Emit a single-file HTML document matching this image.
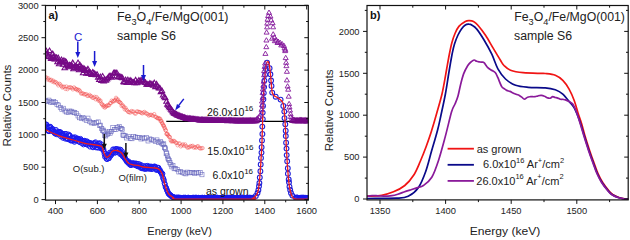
<!DOCTYPE html>
<html><head><meta charset="utf-8">
<style>
html,body{margin:0;padding:0;background:#fff;}
body{width:630px;height:238px;overflow:hidden;}
svg{display:block;font-family:"Liberation Sans",sans-serif;}
text{font-family:"Liberation Sans",sans-serif;}
</style></head><body>
<svg width="630" height="238" viewBox="0 0 630 238">
<rect width="630" height="238" fill="#fff"/>
<clipPath id="ca"><rect x="45.5" y="5.5" width="262.8" height="194.6"/></clipPath>
<g clip-path="url(#ca)">
<line x1="166.3" y1="121.4" x2="308.3" y2="121.4" stroke="#000" stroke-width="1.3"/>
<g fill="none" stroke="#f04040" stroke-width="0.42"><circle cx="45.5" cy="77.5" r="1.7"/><circle cx="46.5" cy="77.5" r="1.7"/><circle cx="47.4" cy="79.5" r="1.7"/><circle cx="48.4" cy="78.3" r="1.7"/><circle cx="49.4" cy="80.2" r="1.7"/><circle cx="50.4" cy="80.2" r="1.7"/><circle cx="51.3" cy="79.8" r="1.7"/><circle cx="52.3" cy="81.6" r="1.7"/><circle cx="53.3" cy="80.7" r="1.7"/><circle cx="54.2" cy="82.4" r="1.7"/><circle cx="55.2" cy="81.9" r="1.7"/><circle cx="56.2" cy="82.4" r="1.7"/><circle cx="57.2" cy="83.8" r="1.7"/><circle cx="58.3" cy="85.4" r="1.7"/><circle cx="59.3" cy="83.7" r="1.7"/><circle cx="60.3" cy="84.5" r="1.7"/><circle cx="61.3" cy="86.1" r="1.7"/><circle cx="62.3" cy="87.5" r="1.7"/><circle cx="63.3" cy="86.8" r="1.7"/><circle cx="64.3" cy="86.7" r="1.7"/><circle cx="65.4" cy="88.9" r="1.7"/><circle cx="66.4" cy="86.5" r="1.7"/><circle cx="67.4" cy="89.2" r="1.7"/><circle cx="68.5" cy="87.6" r="1.7"/><circle cx="69.6" cy="87.3" r="1.7"/><circle cx="70.7" cy="87.3" r="1.7"/><circle cx="71.8" cy="88" r="1.7"/><circle cx="72.9" cy="89.4" r="1.7"/><circle cx="74" cy="87.4" r="1.7"/><circle cx="75.1" cy="88.5" r="1.7"/><circle cx="75.9" cy="89.3" r="1.7"/><circle cx="76.8" cy="89.2" r="1.7"/><circle cx="77.6" cy="90.4" r="1.7"/><circle cx="78.5" cy="89.7" r="1.7"/><circle cx="79.4" cy="90.3" r="1.7"/><circle cx="80.2" cy="91.5" r="1.7"/><circle cx="81.1" cy="93.6" r="1.7"/><circle cx="82" cy="93.4" r="1.7"/><circle cx="83.1" cy="93.4" r="1.7"/><circle cx="84.1" cy="94.4" r="1.7"/><circle cx="85.2" cy="94.3" r="1.7"/><circle cx="86.3" cy="94.1" r="1.7"/><circle cx="87.3" cy="95.9" r="1.7"/><circle cx="88.4" cy="95.8" r="1.7"/><circle cx="89.5" cy="94.8" r="1.7"/><circle cx="90.5" cy="96.1" r="1.7"/><circle cx="91.5" cy="96.4" r="1.7"/><circle cx="92.5" cy="97.8" r="1.7"/><circle cx="93.6" cy="97.8" r="1.7"/><circle cx="94.6" cy="96.8" r="1.7"/><circle cx="95.6" cy="99.3" r="1.7"/><circle cx="96.6" cy="97.1" r="1.7"/><circle cx="97.5" cy="98.7" r="1.7"/><circle cx="98.3" cy="100.5" r="1.7"/><circle cx="99" cy="99.4" r="1.7"/><circle cx="99.8" cy="101.2" r="1.7"/><circle cx="100.6" cy="100.7" r="1.7"/><circle cx="101.3" cy="103.4" r="1.7"/><circle cx="102" cy="104.5" r="1.7"/><circle cx="102.7" cy="104.8" r="1.7"/><circle cx="103.4" cy="106.6" r="1.7"/><circle cx="104.1" cy="105.7" r="1.7"/><circle cx="104.8" cy="107.7" r="1.7"/><circle cx="105.6" cy="106.8" r="1.7"/><circle cx="106.5" cy="106.1" r="1.7"/><circle cx="107.4" cy="105.1" r="1.7"/><circle cx="108.3" cy="105.6" r="1.7"/><circle cx="109.1" cy="105.2" r="1.7"/><circle cx="110" cy="103.2" r="1.7"/><circle cx="110.9" cy="103.1" r="1.7"/><circle cx="111.7" cy="100.6" r="1.7"/><circle cx="112.6" cy="101.8" r="1.7"/><circle cx="113.4" cy="100.9" r="1.7"/><circle cx="114.3" cy="101.2" r="1.7"/><circle cx="115.1" cy="100" r="1.7"/><circle cx="116" cy="97.8" r="1.7"/><circle cx="116.6" cy="99" r="1.7"/><circle cx="117.3" cy="100.7" r="1.7"/><circle cx="118" cy="99.6" r="1.7"/><circle cx="118.7" cy="101.8" r="1.7"/><circle cx="119.4" cy="101.8" r="1.7"/><circle cx="120.1" cy="102.5" r="1.7"/><circle cx="120.8" cy="103.1" r="1.7"/><circle cx="121.6" cy="106" r="1.7"/><circle cx="122.4" cy="104.9" r="1.7"/><circle cx="123.2" cy="106" r="1.7"/><circle cx="123.9" cy="107.2" r="1.7"/><circle cx="124.7" cy="109.4" r="1.7"/><circle cx="125.5" cy="107.8" r="1.7"/><circle cx="126.3" cy="109.7" r="1.7"/><circle cx="127.2" cy="110.6" r="1.7"/><circle cx="128.2" cy="112" r="1.7"/><circle cx="129.2" cy="112.2" r="1.7"/><circle cx="130.3" cy="112.6" r="1.7"/><circle cx="131.4" cy="111" r="1.7"/><circle cx="132.5" cy="111.6" r="1.7"/><circle cx="133.6" cy="111.6" r="1.7"/><circle cx="134.6" cy="113.3" r="1.7"/><circle cx="135.7" cy="113.7" r="1.7"/><circle cx="136.8" cy="111.4" r="1.7"/><circle cx="137.9" cy="111.6" r="1.7"/><circle cx="139" cy="111.9" r="1.7"/><circle cx="140.1" cy="112.1" r="1.7"/><circle cx="141.2" cy="112.9" r="1.7"/><circle cx="142.3" cy="113.4" r="1.7"/><circle cx="143.4" cy="112.5" r="1.7"/><circle cx="144.5" cy="111.9" r="1.7"/><circle cx="145.6" cy="113.3" r="1.7"/><circle cx="146.6" cy="113.4" r="1.7"/><circle cx="147.7" cy="114.2" r="1.7"/><circle cx="148.8" cy="115.6" r="1.7"/><circle cx="149.9" cy="115" r="1.7"/><circle cx="150.9" cy="114.7" r="1.7"/><circle cx="152" cy="115.3" r="1.7"/><circle cx="153.1" cy="115.7" r="1.7"/><circle cx="154.2" cy="114.1" r="1.7"/><circle cx="155.2" cy="116.8" r="1.7"/><circle cx="156.2" cy="116.9" r="1.7"/><circle cx="157" cy="117.9" r="1.7"/><circle cx="157.8" cy="118.5" r="1.7"/><circle cx="158.6" cy="118" r="1.7"/><circle cx="159.3" cy="118.8" r="1.7"/><circle cx="160.1" cy="118.7" r="1.7"/><circle cx="160.6" cy="121.3" r="1.7"/><circle cx="161.1" cy="120.5" r="1.7"/><circle cx="161.6" cy="121.5" r="1.7"/><circle cx="162.1" cy="123" r="1.7"/><circle cx="162.6" cy="123.8" r="1.7"/><circle cx="163.1" cy="125.3" r="1.7"/><circle cx="163.6" cy="125.4" r="1.7"/><circle cx="164" cy="126.3" r="1.7"/><circle cx="164.5" cy="127.7" r="1.7"/><circle cx="165" cy="128.6" r="1.7"/><circle cx="165.5" cy="130.3" r="1.7"/><circle cx="165.9" cy="130.3" r="1.7"/><circle cx="166.4" cy="133.9" r="1.7"/><circle cx="166.9" cy="134.1" r="1.7"/><circle cx="167.4" cy="133.7" r="1.7"/><circle cx="168" cy="134.9" r="1.7"/><circle cx="168.6" cy="136.1" r="1.7"/><circle cx="169.3" cy="137" r="1.7"/><circle cx="170" cy="137.1" r="1.7"/><circle cx="170.6" cy="140.2" r="1.7"/><circle cx="171.3" cy="141.5" r="1.7"/><circle cx="171.9" cy="140.8" r="1.7"/><circle cx="172.9" cy="141.5" r="1.7"/><circle cx="173.8" cy="140.8" r="1.7"/><circle cx="174.8" cy="141.4" r="1.7"/><circle cx="175.7" cy="142.7" r="1.7"/><circle cx="176.7" cy="143" r="1.7"/><circle cx="177.6" cy="145.3" r="1.7"/><circle cx="178.6" cy="143.6" r="1.7"/><circle cx="179.7" cy="143.4" r="1.7"/><circle cx="180.8" cy="146.4" r="1.7"/><circle cx="181.9" cy="145.3" r="1.7"/><circle cx="183" cy="144.3" r="1.7"/><circle cx="184" cy="145.7" r="1.7"/><circle cx="185.1" cy="144.4" r="1.7"/><circle cx="186.2" cy="146.1" r="1.7"/><circle cx="187.3" cy="147.6" r="1.7"/><circle cx="188.4" cy="147.5" r="1.7"/><circle cx="189.5" cy="147.2" r="1.7"/><circle cx="190.5" cy="146" r="1.7"/><circle cx="191.6" cy="146.4" r="1.7"/><circle cx="192.7" cy="145.8" r="1.7"/><circle cx="193.8" cy="147.7" r="1.7"/><circle cx="194.9" cy="147" r="1.7"/><circle cx="196" cy="147.8" r="1.7"/><circle cx="197.1" cy="146.5" r="1.7"/><circle cx="198.2" cy="146.2" r="1.7"/><circle cx="199.3" cy="148" r="1.7"/><circle cx="200.4" cy="148.6" r="1.7"/><circle cx="201.5" cy="148.2" r="1.7"/><circle cx="202.6" cy="148.1" r="1.7"/></g>
<g fill="none" stroke="#6464bc" stroke-width="0.55"><rect x="43.7" y="98.8" width="4.1" height="4.1"/><rect x="45.3" y="99.3" width="4.1" height="4.1"/><rect x="46.9" y="98.1" width="4.1" height="4.1"/><rect x="48.5" y="100" width="4.1" height="4.1"/><rect x="50.1" y="100.2" width="4.1" height="4.1"/><rect x="51.7" y="99.7" width="4.1" height="4.1"/><rect x="53.3" y="100.5" width="4.1" height="4.1"/><rect x="54.9" y="102.3" width="4.1" height="4.1"/><rect x="56.5" y="103" width="4.1" height="4.1"/><rect x="58.2" y="105.5" width="4.1" height="4.1"/><rect x="59.8" y="107.4" width="4.1" height="4.1"/><rect x="61.4" y="106.2" width="4.1" height="4.1"/><rect x="63" y="108.9" width="4.1" height="4.1"/><rect x="64.6" y="109.9" width="4.1" height="4.1"/><rect x="66.2" y="110.6" width="4.1" height="4.1"/><rect x="67.8" y="109" width="4.1" height="4.1"/><rect x="69.4" y="109.2" width="4.1" height="4.1"/><rect x="71.1" y="110.1" width="4.1" height="4.1"/><rect x="72.7" y="110.7" width="4.1" height="4.1"/><rect x="74.3" y="111.5" width="4.1" height="4.1"/><rect x="76" y="113.9" width="4.1" height="4.1"/><rect x="77.6" y="115.7" width="4.1" height="4.1"/><rect x="79.3" y="116.2" width="4.1" height="4.1"/><rect x="80.9" y="115.5" width="4.1" height="4.1"/><rect x="82.5" y="116.9" width="4.1" height="4.1"/><rect x="84.2" y="118.3" width="4.1" height="4.1"/><rect x="85.9" y="116.1" width="4.1" height="4.1"/><rect x="87.5" y="119.1" width="4.1" height="4.1"/><rect x="89.2" y="120.8" width="4.1" height="4.1"/><rect x="90.9" y="120.8" width="4.1" height="4.1"/><rect x="92.6" y="121.2" width="4.1" height="4.1"/><rect x="94.3" y="120.6" width="4.1" height="4.1"/><rect x="96.1" y="119.9" width="4.1" height="4.1"/><rect x="97.4" y="123.5" width="4.1" height="4.1"/><rect x="98.5" y="123.1" width="4.1" height="4.1"/><rect x="99.7" y="126.3" width="4.1" height="4.1"/><rect x="100.5" y="128.6" width="4.1" height="4.1"/><rect x="101.2" y="128" width="4.1" height="4.1"/><rect x="101.9" y="129.6" width="4.1" height="4.1"/><rect x="102.5" y="133.5" width="4.1" height="4.1"/><rect x="103.7" y="133.9" width="4.1" height="4.1"/><rect x="105.2" y="132.6" width="4.1" height="4.1"/><rect x="106.2" y="131" width="4.1" height="4.1"/><rect x="107.2" y="129.6" width="4.1" height="4.1"/><rect x="108.1" y="131.1" width="4.1" height="4.1"/><rect x="109.4" y="129.4" width="4.1" height="4.1"/><rect x="110.8" y="125.6" width="4.1" height="4.1"/><rect x="112.3" y="127.4" width="4.1" height="4.1"/><rect x="114" y="127.4" width="4.1" height="4.1"/><rect x="115.7" y="125.5" width="4.1" height="4.1"/><rect x="117.1" y="124.4" width="4.1" height="4.1"/><rect x="118.2" y="126.6" width="4.1" height="4.1"/><rect x="119.3" y="126.3" width="4.1" height="4.1"/><rect x="120.1" y="127.5" width="4.1" height="4.1"/><rect x="120.9" y="132.9" width="4.1" height="4.1"/><rect x="121.6" y="133.3" width="4.1" height="4.1"/><rect x="123" y="133.7" width="4.1" height="4.1"/><rect x="124.7" y="135.9" width="4.1" height="4.1"/><rect x="126.4" y="134.4" width="4.1" height="4.1"/><rect x="128.2" y="136.6" width="4.1" height="4.1"/><rect x="129.9" y="136.7" width="4.1" height="4.1"/><rect x="131.7" y="134.6" width="4.1" height="4.1"/><rect x="133.5" y="135" width="4.1" height="4.1"/><rect x="135.3" y="135.4" width="4.1" height="4.1"/><rect x="137.1" y="135.4" width="4.1" height="4.1"/><rect x="138.9" y="136.9" width="4.1" height="4.1"/><rect x="140.6" y="135.8" width="4.1" height="4.1"/><rect x="142.4" y="136.7" width="4.1" height="4.1"/><rect x="144.2" y="135.7" width="4.1" height="4.1"/><rect x="146" y="138.9" width="4.1" height="4.1"/><rect x="147.8" y="136.9" width="4.1" height="4.1"/><rect x="149.6" y="137.4" width="4.1" height="4.1"/><rect x="151.4" y="138.1" width="4.1" height="4.1"/><rect x="153.2" y="139.5" width="4.1" height="4.1"/><rect x="154.9" y="137.9" width="4.1" height="4.1"/><rect x="156.6" y="140.6" width="4.1" height="4.1"/><rect x="158.2" y="139.7" width="4.1" height="4.1"/><rect x="159.5" y="141" width="4.1" height="4.1"/><rect x="160.8" y="142.3" width="4.1" height="4.1"/><rect x="161.7" y="141.8" width="4.1" height="4.1"/><rect x="162.3" y="145.2" width="4.1" height="4.1"/><rect x="162.9" y="145.8" width="4.1" height="4.1"/><rect x="163.5" y="146.8" width="4.1" height="4.1"/><rect x="164.1" y="151.7" width="4.1" height="4.1"/><rect x="164.7" y="150.9" width="4.1" height="4.1"/><rect x="165.3" y="153.8" width="4.1" height="4.1"/><rect x="165.9" y="156.5" width="4.1" height="4.1"/><rect x="166.5" y="157.5" width="4.1" height="4.1"/><rect x="167.1" y="158.3" width="4.1" height="4.1"/><rect x="167.9" y="160.7" width="4.1" height="4.1"/><rect x="168.8" y="162.3" width="4.1" height="4.1"/><rect x="169.8" y="164.8" width="4.1" height="4.1"/><rect x="170.9" y="163.5" width="4.1" height="4.1"/><rect x="172.1" y="166.7" width="4.1" height="4.1"/><rect x="173.4" y="166.6" width="4.1" height="4.1"/><rect x="175.1" y="167.3" width="4.1" height="4.1"/><rect x="176.8" y="169.9" width="4.1" height="4.1"/><rect x="178.4" y="169.4" width="4.1" height="4.1"/><rect x="180.2" y="170.2" width="4.1" height="4.1"/><rect x="182" y="171.1" width="4.1" height="4.1"/><rect x="183.8" y="171.8" width="4.1" height="4.1"/><rect x="185.5" y="170.1" width="4.1" height="4.1"/><rect x="187.3" y="170.8" width="4.1" height="4.1"/><rect x="189.1" y="170.5" width="4.1" height="4.1"/><rect x="190.9" y="170.6" width="4.1" height="4.1"/><rect x="192.7" y="171.4" width="4.1" height="4.1"/><rect x="194.5" y="170.5" width="4.1" height="4.1"/><rect x="196.3" y="170.9" width="4.1" height="4.1"/><rect x="198.1" y="170.7" width="4.1" height="4.1"/><rect x="199.9" y="172.7" width="4.1" height="4.1"/></g>
<g fill="none" stroke="#1a1aee" stroke-width="1"><circle cx="45.5" cy="125.3" r="2.4"/><circle cx="46" cy="124.5" r="2.4"/><circle cx="46.5" cy="124.5" r="2.4"/><circle cx="47" cy="127.8" r="2.4"/><circle cx="47.5" cy="126.7" r="2.4"/><circle cx="48" cy="130.8" r="2.4"/><circle cx="48.5" cy="130.5" r="2.4"/><circle cx="49" cy="131.3" r="2.4"/><circle cx="49.5" cy="127.4" r="2.4"/><circle cx="50" cy="126.6" r="2.4"/><circle cx="50.5" cy="126.9" r="2.4"/><circle cx="51" cy="129.5" r="2.4"/><circle cx="51.5" cy="131" r="2.4"/><circle cx="52" cy="129.7" r="2.4"/><circle cx="52.5" cy="128.7" r="2.4"/><circle cx="53" cy="130" r="2.4"/><circle cx="53.5" cy="131.5" r="2.4"/><circle cx="54" cy="132" r="2.4"/><circle cx="54.5" cy="132.7" r="2.4"/><circle cx="55" cy="133.6" r="2.4"/><circle cx="55.5" cy="132.8" r="2.4"/><circle cx="56" cy="129.9" r="2.4"/><circle cx="56.5" cy="134.3" r="2.4"/><circle cx="57" cy="131.4" r="2.4"/><circle cx="57.5" cy="133.2" r="2.4"/><circle cx="58" cy="132.3" r="2.4"/><circle cx="58.5" cy="134.7" r="2.4"/><circle cx="59" cy="131.8" r="2.4"/><circle cx="59.5" cy="132.3" r="2.4"/><circle cx="60" cy="132.4" r="2.4"/><circle cx="60.5" cy="132.1" r="2.4"/><circle cx="61" cy="136.5" r="2.4"/><circle cx="61.5" cy="134.9" r="2.4"/><circle cx="62" cy="133.6" r="2.4"/><circle cx="62.5" cy="134.2" r="2.4"/><circle cx="63" cy="137.9" r="2.4"/><circle cx="63.5" cy="135.2" r="2.4"/><circle cx="64" cy="133.8" r="2.4"/><circle cx="64.5" cy="137.3" r="2.4"/><circle cx="65" cy="136.6" r="2.4"/><circle cx="65.5" cy="138.8" r="2.4"/><circle cx="66" cy="133.8" r="2.4"/><circle cx="66.5" cy="136.2" r="2.4"/><circle cx="67" cy="138.3" r="2.4"/><circle cx="67.5" cy="138.6" r="2.4"/><circle cx="68" cy="139.3" r="2.4"/><circle cx="68.5" cy="134.4" r="2.4"/><circle cx="69" cy="136" r="2.4"/><circle cx="69.5" cy="135.2" r="2.4"/><circle cx="70" cy="135.8" r="2.4"/><circle cx="70.5" cy="140.5" r="2.4"/><circle cx="71" cy="138.4" r="2.4"/><circle cx="71.5" cy="140.6" r="2.4"/><circle cx="72" cy="137.6" r="2.4"/><circle cx="72.5" cy="140.6" r="2.4"/><circle cx="73" cy="138.4" r="2.4"/><circle cx="73.5" cy="137.5" r="2.4"/><circle cx="74" cy="140.7" r="2.4"/><circle cx="74.5" cy="141.9" r="2.4"/><circle cx="75" cy="137.2" r="2.4"/><circle cx="75.5" cy="140.2" r="2.4"/><circle cx="76" cy="140.6" r="2.4"/><circle cx="76.5" cy="138.4" r="2.4"/><circle cx="77" cy="139.5" r="2.4"/><circle cx="77.5" cy="138.4" r="2.4"/><circle cx="78" cy="138.9" r="2.4"/><circle cx="78.5" cy="139.4" r="2.4"/><circle cx="79" cy="141.6" r="2.4"/><circle cx="79.5" cy="142.1" r="2.4"/><circle cx="80" cy="139.7" r="2.4"/><circle cx="80.5" cy="138.8" r="2.4"/><circle cx="81" cy="140.8" r="2.4"/><circle cx="81.5" cy="143.1" r="2.4"/><circle cx="82" cy="140.4" r="2.4"/><circle cx="82.5" cy="141.3" r="2.4"/><circle cx="83" cy="140.9" r="2.4"/><circle cx="83.5" cy="144.5" r="2.4"/><circle cx="84" cy="143.3" r="2.4"/><circle cx="84.5" cy="140.7" r="2.4"/><circle cx="85" cy="141.1" r="2.4"/><circle cx="85.5" cy="142.9" r="2.4"/><circle cx="86" cy="143.8" r="2.4"/><circle cx="86.5" cy="144.4" r="2.4"/><circle cx="87" cy="141.3" r="2.4"/><circle cx="87.5" cy="141.8" r="2.4"/><circle cx="88" cy="145" r="2.4"/><circle cx="88.5" cy="143.4" r="2.4"/><circle cx="89" cy="142.7" r="2.4"/><circle cx="89.5" cy="142.9" r="2.4"/><circle cx="90" cy="146.7" r="2.4"/><circle cx="90.5" cy="143.1" r="2.4"/><circle cx="91" cy="144.6" r="2.4"/><circle cx="91.5" cy="143.5" r="2.4"/><circle cx="92" cy="143.9" r="2.4"/><circle cx="92.5" cy="146.6" r="2.4"/><circle cx="93" cy="147.4" r="2.4"/><circle cx="93.5" cy="143.9" r="2.4"/><circle cx="94" cy="143" r="2.4"/><circle cx="94.5" cy="146.2" r="2.4"/><circle cx="95" cy="143.2" r="2.4"/><circle cx="95.5" cy="142.2" r="2.4"/><circle cx="96" cy="147.5" r="2.4"/><circle cx="96.5" cy="144.8" r="2.4"/><circle cx="97" cy="147.2" r="2.4"/><circle cx="97.5" cy="144.9" r="2.4"/><circle cx="98" cy="147.8" r="2.4"/><circle cx="98.5" cy="145.4" r="2.4"/><circle cx="99" cy="143.8" r="2.4"/><circle cx="99.5" cy="143" r="2.4"/><circle cx="100" cy="146.3" r="2.4"/><circle cx="100.5" cy="146.9" r="2.4"/><circle cx="101" cy="148.5" r="2.4"/><circle cx="101.5" cy="144.3" r="2.4"/><circle cx="102" cy="148.3" r="2.4"/><circle cx="102.5" cy="147.7" r="2.4"/><circle cx="103" cy="149.7" r="2.4"/><circle cx="103.5" cy="149.3" r="2.4"/><circle cx="104" cy="151.7" r="2.4"/><circle cx="104.5" cy="154.1" r="2.4"/><circle cx="105" cy="156.9" r="2.4"/><circle cx="105.5" cy="153.7" r="2.4"/><circle cx="106" cy="156.3" r="2.4"/><circle cx="106.5" cy="158.6" r="2.4"/><circle cx="107" cy="159.2" r="2.4"/><circle cx="107.5" cy="155.3" r="2.4"/><circle cx="108" cy="154.7" r="2.4"/><circle cx="108.5" cy="158.4" r="2.4"/><circle cx="109" cy="158.3" r="2.4"/><circle cx="109.5" cy="155.2" r="2.4"/><circle cx="110" cy="152.4" r="2.4"/><circle cx="110.5" cy="156.1" r="2.4"/><circle cx="111" cy="152.7" r="2.4"/><circle cx="111.5" cy="154.7" r="2.4"/><circle cx="112" cy="152.5" r="2.4"/><circle cx="112.5" cy="153" r="2.4"/><circle cx="113" cy="149.3" r="2.4"/><circle cx="113.5" cy="152.6" r="2.4"/><circle cx="114" cy="149.5" r="2.4"/><circle cx="114.5" cy="150.4" r="2.4"/><circle cx="115" cy="152.7" r="2.4"/><circle cx="115.5" cy="152.5" r="2.4"/><circle cx="116" cy="148.9" r="2.4"/><circle cx="116.5" cy="149" r="2.4"/><circle cx="117" cy="150.1" r="2.4"/><circle cx="117.5" cy="151" r="2.4"/><circle cx="118" cy="150.4" r="2.4"/><circle cx="118.5" cy="149.2" r="2.4"/><circle cx="119" cy="150.1" r="2.4"/><circle cx="119.5" cy="152.9" r="2.4"/><circle cx="120" cy="154" r="2.4"/><circle cx="120.5" cy="149.6" r="2.4"/><circle cx="121" cy="152.8" r="2.4"/><circle cx="121.5" cy="154.4" r="2.4"/><circle cx="122" cy="151.3" r="2.4"/><circle cx="122.5" cy="156.1" r="2.4"/><circle cx="123" cy="153.3" r="2.4"/><circle cx="123.5" cy="156.5" r="2.4"/><circle cx="124" cy="157.1" r="2.4"/><circle cx="124.5" cy="158.3" r="2.4"/><circle cx="125" cy="157.6" r="2.4"/><circle cx="125.5" cy="159" r="2.4"/><circle cx="126" cy="160.3" r="2.4"/><circle cx="126.5" cy="160.3" r="2.4"/><circle cx="127" cy="161.9" r="2.4"/><circle cx="127.5" cy="161.7" r="2.4"/><circle cx="128" cy="162.3" r="2.4"/><circle cx="128.5" cy="161.3" r="2.4"/><circle cx="129" cy="163.9" r="2.4"/><circle cx="129.5" cy="163.5" r="2.4"/><circle cx="130" cy="162.7" r="2.4"/><circle cx="130.5" cy="165" r="2.4"/><circle cx="131" cy="165.2" r="2.4"/><circle cx="131.5" cy="164.1" r="2.4"/><circle cx="132" cy="163.2" r="2.4"/><circle cx="132.5" cy="164.5" r="2.4"/><circle cx="133" cy="163.3" r="2.4"/><circle cx="133.5" cy="163.4" r="2.4"/><circle cx="134" cy="164.7" r="2.4"/><circle cx="134.5" cy="163.4" r="2.4"/><circle cx="135" cy="164.8" r="2.4"/><circle cx="135.5" cy="165.1" r="2.4"/><circle cx="136" cy="163.4" r="2.4"/><circle cx="136.5" cy="165.7" r="2.4"/><circle cx="137" cy="163.7" r="2.4"/><circle cx="137.5" cy="166.2" r="2.4"/><circle cx="138" cy="166.4" r="2.4"/><circle cx="138.5" cy="165.6" r="2.4"/><circle cx="139" cy="164" r="2.4"/><circle cx="139.5" cy="165.9" r="2.4"/><circle cx="140" cy="165.5" r="2.4"/><circle cx="140.5" cy="167.8" r="2.4"/><circle cx="141" cy="164.9" r="2.4"/><circle cx="141.5" cy="167.7" r="2.4"/><circle cx="142" cy="168.4" r="2.4"/><circle cx="142.5" cy="167.6" r="2.4"/><circle cx="143" cy="168" r="2.4"/><circle cx="143.5" cy="165.9" r="2.4"/><circle cx="144" cy="168.8" r="2.4"/><circle cx="144.5" cy="167.1" r="2.4"/><circle cx="145" cy="168.8" r="2.4"/><circle cx="145.5" cy="168.7" r="2.4"/><circle cx="146" cy="166" r="2.4"/><circle cx="146.5" cy="168.3" r="2.4"/><circle cx="147" cy="168.8" r="2.4"/><circle cx="147.5" cy="165.8" r="2.4"/><circle cx="148" cy="166.9" r="2.4"/><circle cx="148.5" cy="168.3" r="2.4"/><circle cx="149" cy="166.3" r="2.4"/><circle cx="149.5" cy="168.9" r="2.4"/><circle cx="150" cy="166.8" r="2.4"/><circle cx="150.5" cy="168.7" r="2.4"/><circle cx="151" cy="166.4" r="2.4"/><circle cx="151.5" cy="167.7" r="2.4"/><circle cx="152" cy="169.2" r="2.4"/><circle cx="152.5" cy="166.8" r="2.4"/><circle cx="153" cy="167" r="2.4"/><circle cx="153.5" cy="167.9" r="2.4"/><circle cx="154" cy="167.3" r="2.4"/><circle cx="154.5" cy="166.3" r="2.4"/><circle cx="155" cy="166.9" r="2.4"/><circle cx="155.5" cy="167" r="2.4"/><circle cx="156" cy="169.8" r="2.4"/><circle cx="156.5" cy="169" r="2.4"/><circle cx="157" cy="169.9" r="2.4"/><circle cx="157.5" cy="167.6" r="2.4"/><circle cx="158" cy="169.8" r="2.4"/><circle cx="158.5" cy="167.7" r="2.4"/><circle cx="159" cy="169.6" r="2.4"/><circle cx="159.5" cy="170.4" r="2.4"/><circle cx="160" cy="170.1" r="2.4"/><circle cx="160.5" cy="172.2" r="2.4"/><circle cx="161" cy="172.1" r="2.4"/><circle cx="161.5" cy="173.1" r="2.4"/><circle cx="162" cy="174.9" r="2.4"/><circle cx="162.5" cy="173.7" r="2.4"/><circle cx="163" cy="177.9" r="2.4"/><circle cx="163.5" cy="179" r="2.4"/><circle cx="164" cy="180.5" r="2.4"/><circle cx="164.5" cy="183.3" r="2.4"/><circle cx="165" cy="184.4" r="2.4"/><circle cx="165.5" cy="186.9" r="2.4"/><circle cx="166" cy="187.6" r="2.4"/><circle cx="166.5" cy="188.6" r="2.4"/><circle cx="167" cy="190.3" r="2.4"/><circle cx="167.5" cy="191.3" r="2.4"/><circle cx="168" cy="192.4" r="2.4"/><circle cx="168.5" cy="193.8" r="2.4"/><circle cx="169" cy="193.8" r="2.4"/><circle cx="169.5" cy="194.7" r="2.4"/><circle cx="170" cy="194.7" r="2.4"/><circle cx="170.5" cy="195.3" r="2.4"/><circle cx="171" cy="196" r="2.4"/><circle cx="171.5" cy="196.1" r="2.4"/><circle cx="172" cy="196.5" r="2.4"/><circle cx="172.5" cy="196.7" r="2.4"/><circle cx="173" cy="196.9" r="2.4"/><circle cx="173.5" cy="197.3" r="2.4"/><circle cx="174" cy="197.4" r="2.4"/><circle cx="174.5" cy="197.7" r="2.4"/><circle cx="175" cy="197.6" r="2.4"/><circle cx="175.5" cy="197.7" r="2.4"/><circle cx="176" cy="198" r="2.4"/><circle cx="176.5" cy="197.5" r="2.4"/><circle cx="177" cy="197.6" r="2.4"/><circle cx="177.5" cy="197.9" r="2.4"/><circle cx="178" cy="197.5" r="2.4"/><circle cx="178.5" cy="197.5" r="2.4"/><circle cx="179" cy="197.8" r="2.4"/><circle cx="179.5" cy="197.6" r="2.4"/><circle cx="180" cy="197.8" r="2.4"/><circle cx="180.5" cy="197.7" r="2.4"/><circle cx="181" cy="198" r="2.4"/><circle cx="181.5" cy="198" r="2.4"/><circle cx="182" cy="197.7" r="2.4"/><circle cx="182.5" cy="198" r="2.4"/><circle cx="183" cy="197.9" r="2.4"/><circle cx="183.5" cy="197.6" r="2.4"/><circle cx="184" cy="198.2" r="2.4"/><circle cx="184.5" cy="197.7" r="2.4"/><circle cx="185" cy="197.7" r="2.4"/><circle cx="185.5" cy="197.6" r="2.4"/><circle cx="186" cy="198" r="2.4"/><circle cx="186.5" cy="198.2" r="2.4"/><circle cx="187" cy="198.1" r="2.4"/><circle cx="187.5" cy="197.8" r="2.4"/><circle cx="188" cy="197.7" r="2.4"/><circle cx="188.5" cy="197.6" r="2.4"/><circle cx="189" cy="198" r="2.4"/><circle cx="189.5" cy="197.9" r="2.4"/><circle cx="190" cy="197.8" r="2.4"/><circle cx="190.5" cy="198" r="2.4"/><circle cx="191" cy="197.9" r="2.4"/><circle cx="191.5" cy="198.2" r="2.4"/><circle cx="192" cy="198.1" r="2.4"/><circle cx="192.5" cy="197.7" r="2.4"/><circle cx="193" cy="198.2" r="2.4"/><circle cx="193.5" cy="197.6" r="2.4"/><circle cx="194" cy="197.9" r="2.4"/><circle cx="194.5" cy="197.8" r="2.4"/><circle cx="195" cy="197.7" r="2.4"/><circle cx="195.5" cy="197.6" r="2.4"/><circle cx="196" cy="198.1" r="2.4"/><circle cx="196.5" cy="197.6" r="2.4"/><circle cx="197" cy="197.9" r="2.4"/><circle cx="197.5" cy="198.2" r="2.4"/><circle cx="198" cy="197.7" r="2.4"/><circle cx="198.5" cy="197.7" r="2.4"/><circle cx="199" cy="198" r="2.4"/><circle cx="199.5" cy="197.9" r="2.4"/><circle cx="200" cy="198" r="2.4"/><circle cx="200.5" cy="198.1" r="2.4"/><circle cx="201" cy="197.7" r="2.4"/><circle cx="201.5" cy="197.8" r="2.4"/><circle cx="202" cy="197.8" r="2.4"/><circle cx="202.5" cy="197.6" r="2.4"/><circle cx="203" cy="198.2" r="2.4"/><circle cx="203.5" cy="198.1" r="2.4"/><circle cx="204" cy="198" r="2.4"/><circle cx="204.5" cy="197.6" r="2.4"/><circle cx="205" cy="198.1" r="2.4"/><circle cx="205.5" cy="198.1" r="2.4"/><circle cx="206" cy="197.9" r="2.4"/><circle cx="206.5" cy="198.1" r="2.4"/><circle cx="207" cy="197.9" r="2.4"/><circle cx="207.5" cy="197.7" r="2.4"/><circle cx="208" cy="197.6" r="2.4"/><circle cx="208.5" cy="197.7" r="2.4"/><circle cx="209" cy="197.6" r="2.4"/><circle cx="209.5" cy="197.8" r="2.4"/><circle cx="210" cy="198.1" r="2.4"/><circle cx="210.5" cy="198" r="2.4"/><circle cx="211" cy="198.1" r="2.4"/><circle cx="211.5" cy="198" r="2.4"/><circle cx="212" cy="197.7" r="2.4"/><circle cx="212.5" cy="197.9" r="2.4"/><circle cx="213" cy="197.9" r="2.4"/><circle cx="213.5" cy="198.1" r="2.4"/><circle cx="214" cy="197.9" r="2.4"/><circle cx="214.5" cy="197.7" r="2.4"/><circle cx="215" cy="198" r="2.4"/><circle cx="215.5" cy="198.2" r="2.4"/><circle cx="216" cy="197.7" r="2.4"/><circle cx="216.5" cy="198.2" r="2.4"/><circle cx="217" cy="197.6" r="2.4"/><circle cx="217.5" cy="197.7" r="2.4"/><circle cx="218" cy="197.7" r="2.4"/><circle cx="218.5" cy="198.1" r="2.4"/><circle cx="219" cy="198.2" r="2.4"/><circle cx="219.5" cy="198.1" r="2.4"/><circle cx="220" cy="197.8" r="2.4"/><circle cx="220.5" cy="198.2" r="2.4"/><circle cx="221" cy="197.8" r="2.4"/><circle cx="221.5" cy="197.7" r="2.4"/><circle cx="222" cy="198.2" r="2.4"/><circle cx="222.5" cy="198" r="2.4"/><circle cx="223" cy="198" r="2.4"/><circle cx="223.5" cy="198" r="2.4"/><circle cx="224" cy="198.2" r="2.4"/><circle cx="224.5" cy="197.9" r="2.4"/><circle cx="225" cy="198.1" r="2.4"/><circle cx="225.5" cy="198" r="2.4"/><circle cx="226" cy="198.1" r="2.4"/><circle cx="226.5" cy="197.9" r="2.4"/><circle cx="227" cy="198.1" r="2.4"/><circle cx="227.5" cy="197.9" r="2.4"/><circle cx="228" cy="197.8" r="2.4"/><circle cx="228.5" cy="197.7" r="2.4"/><circle cx="229" cy="198" r="2.4"/><circle cx="229.5" cy="197.6" r="2.4"/><circle cx="230" cy="198.2" r="2.4"/><circle cx="230.5" cy="197.7" r="2.4"/><circle cx="231" cy="197.6" r="2.4"/><circle cx="231.5" cy="197.6" r="2.4"/><circle cx="232" cy="198.2" r="2.4"/><circle cx="232.5" cy="197.8" r="2.4"/><circle cx="233" cy="197.7" r="2.4"/><circle cx="233.5" cy="197.6" r="2.4"/><circle cx="234" cy="197.6" r="2.4"/><circle cx="234.5" cy="198" r="2.4"/><circle cx="235" cy="198" r="2.4"/><circle cx="235.5" cy="198" r="2.4"/><circle cx="236" cy="198.1" r="2.4"/><circle cx="236.5" cy="197.6" r="2.4"/><circle cx="237" cy="198" r="2.4"/><circle cx="237.5" cy="197.8" r="2.4"/><circle cx="238" cy="198.1" r="2.4"/><circle cx="238.5" cy="198.1" r="2.4"/><circle cx="239" cy="198.2" r="2.4"/><circle cx="239.5" cy="197.6" r="2.4"/><circle cx="240" cy="198.2" r="2.4"/><circle cx="240.5" cy="198.2" r="2.4"/><circle cx="241" cy="198.2" r="2.4"/><circle cx="241.5" cy="197.6" r="2.4"/><circle cx="242" cy="197.7" r="2.4"/><circle cx="242.5" cy="197.6" r="2.4"/><circle cx="243" cy="197.6" r="2.4"/><circle cx="243.5" cy="198.1" r="2.4"/><circle cx="244" cy="198.1" r="2.4"/><circle cx="244.5" cy="198" r="2.4"/><circle cx="245" cy="198.1" r="2.4"/><circle cx="245.5" cy="198" r="2.4"/><circle cx="246" cy="197.8" r="2.4"/><circle cx="246.5" cy="197.6" r="2.4"/><circle cx="247" cy="197.6" r="2.4"/><circle cx="247.5" cy="198.1" r="2.4"/><circle cx="248" cy="197.7" r="2.4"/><circle cx="248.5" cy="197.8" r="2.4"/><circle cx="249" cy="197.8" r="2.4"/><circle cx="249.5" cy="197.6" r="2.4"/><circle cx="250" cy="197.7" r="2.4"/><circle cx="250.5" cy="197.7" r="2.4"/><circle cx="251" cy="198.1" r="2.4"/><circle cx="251.5" cy="197.8" r="2.4"/><circle cx="252" cy="197.8" r="2.4"/><circle cx="252.5" cy="198" r="2.4"/><circle cx="295.5" cy="197.6" r="2.4"/><circle cx="296" cy="197.9" r="2.4"/><circle cx="296.5" cy="197.7" r="2.4"/><circle cx="297" cy="197.4" r="2.4"/><circle cx="297.5" cy="197.7" r="2.4"/><circle cx="298" cy="197.7" r="2.4"/><circle cx="298.5" cy="198" r="2.4"/><circle cx="299" cy="197.7" r="2.4"/><circle cx="299.5" cy="198" r="2.4"/><circle cx="300" cy="197.9" r="2.4"/><circle cx="300.5" cy="197.7" r="2.4"/><circle cx="301" cy="198.2" r="2.4"/><circle cx="301.5" cy="197.6" r="2.4"/><circle cx="302" cy="198.1" r="2.4"/><circle cx="302.5" cy="197.7" r="2.4"/><circle cx="303" cy="197.6" r="2.4"/><circle cx="303.5" cy="197.7" r="2.4"/><circle cx="304" cy="198.1" r="2.4"/><circle cx="304.5" cy="198.2" r="2.4"/><circle cx="305" cy="197.6" r="2.4"/><circle cx="305.5" cy="197.9" r="2.4"/><circle cx="306" cy="197.9" r="2.4"/><circle cx="306.5" cy="198.1" r="2.4"/><circle cx="307" cy="197.7" r="2.4"/><circle cx="307.5" cy="197.9" r="2.4"/><circle cx="308" cy="197.8" r="2.4"/></g><g fill="none" stroke="#2020d8" stroke-width="1.1"><circle cx="253" cy="197.8" r="2.4"/><circle cx="255.8" cy="195.9" r="2.4"/><circle cx="257.5" cy="192.9" r="2.4"/><circle cx="258.4" cy="190" r="2.4"/><circle cx="259" cy="186.3" r="2.4"/><circle cx="259.4" cy="183" r="2.4"/><circle cx="259.8" cy="177.4" r="2.4"/><circle cx="260.4" cy="171.2" r="2.4"/><circle cx="260.7" cy="164.4" r="2.4"/><circle cx="261" cy="157.9" r="2.4"/><circle cx="261.5" cy="152.6" r="2.4"/><circle cx="261.6" cy="147.2" r="2.4"/><circle cx="262" cy="140.4" r="2.4"/><circle cx="262.4" cy="133.9" r="2.4"/><circle cx="262.3" cy="126.6" r="2.4"/><circle cx="262.8" cy="119.1" r="2.4"/><circle cx="262.7" cy="112.6" r="2.4"/><circle cx="263" cy="105.9" r="2.4"/><circle cx="263.4" cy="99.3" r="2.4"/><circle cx="263.8" cy="93.1" r="2.4"/><circle cx="264.1" cy="87.1" r="2.4"/><circle cx="264.4" cy="80.6" r="2.4"/><circle cx="265.1" cy="74.7" r="2.4"/><circle cx="265.9" cy="69" r="2.4"/><circle cx="267.1" cy="62.6" r="2.4"/><circle cx="269.6" cy="68.2" r="2.4"/><circle cx="270.4" cy="74.3" r="2.4"/><circle cx="271.1" cy="80.5" r="2.4"/><circle cx="271.5" cy="85.9" r="2.4"/><circle cx="272.2" cy="92.6" r="2.4"/><circle cx="275.7" cy="96.7" r="2.4"/><circle cx="280.6" cy="99.6" r="2.4"/><circle cx="283.3" cy="105.9" r="2.4"/><circle cx="284.3" cy="111.6" r="2.4"/><circle cx="284.5" cy="118.1" r="2.4"/><circle cx="285.3" cy="124.2" r="2.4"/><circle cx="285.7" cy="130.7" r="2.4"/><circle cx="285.8" cy="136" r="2.4"/><circle cx="286.1" cy="142.7" r="2.4"/><circle cx="286.5" cy="148.6" r="2.4"/><circle cx="286.7" cy="155.1" r="2.4"/><circle cx="287.2" cy="161.3" r="2.4"/><circle cx="287.8" cy="168.2" r="2.4"/><circle cx="287.9" cy="173.7" r="2.4"/><circle cx="288.7" cy="179.4" r="2.4"/><circle cx="289" cy="182.3" r="2.4"/><circle cx="289.5" cy="186.7" r="2.4"/><circle cx="290.2" cy="189.9" r="2.4"/><circle cx="291" cy="192.9" r="2.4"/><circle cx="292.4" cy="195.6" r="2.4"/></g>
<path fill="none" stroke="#ee1c1c" stroke-width="1.3" d="M45.5 129.7C47.7 130.7 54.1 133.9 58.7 135.6C63.4 137.3 69 138.7 73.4 140C77.8 141.3 81.8 142.7 85 143.4C88.2 144.2 90.1 144 92.8 144.5C95.5 145 99.5 145.4 101.2 146.2C102.9 146.9 102.3 147.8 102.8 149C103.3 150.2 103.6 152.1 104.2 153.5C104.8 154.9 105.7 156.8 106.5 157.2C107.3 157.6 108 157 109 156C110 155 111.1 152.2 112.4 151.3C113.7 150.4 115.2 150.3 116.6 150.5C118 150.7 119.8 151.6 120.8 152.2C121.8 152.8 121.6 153 122.4 154.2C123.2 155.4 124.4 157.7 125.4 159.2C126.4 160.7 127.2 162.3 128.5 163.2C129.8 164.1 131.4 164.4 133 164.8C134.6 165.2 136.2 165 138 165.4C139.8 165.8 140.7 166.6 143.5 167C146.3 167.4 152.5 167.7 155 168C157.5 168.3 157.6 168.5 158.5 169C159.4 169.5 159.8 170 160.5 171C161.2 172 161.8 172.6 162.6 175C163.4 177.4 164.1 182.1 165.1 185.2C166.1 188.3 167 191.5 168.4 193.6C169.8 195.7 171.6 196.7 173.5 197.6C175.4 198.5 167.2 198.8 180 199.1C192.8 199.3 237.9 199.2 250 199.1C262.1 199 251.7 199 252.5 198.6C253.3 198.2 254.2 197.7 255 196.8C255.8 196 256.7 195.1 257.3 193.5C257.9 191.9 258.4 189.9 258.8 187C259.2 184.1 259.5 180.5 259.9 176C260.3 171.5 260.7 165.2 261 160C261.3 154.8 261.6 150.8 261.9 145C262.1 139.2 262.3 132.5 262.5 125C262.7 117.5 262.9 107.5 263.2 100C263.5 92.5 264 85.7 264.5 80C265 74.3 265.5 69.1 266 66C266.5 62.9 267.1 61.7 267.7 61.5C268.2 61.3 268.8 62.8 269.3 65C269.8 67.2 270.1 71.5 270.5 75C270.9 78.5 271.2 83.1 271.5 86C271.8 88.9 271.8 90.9 272.2 92.5C272.6 94.1 273.4 94.8 274 95.5C274.6 96.2 275.1 96.2 276 96.8C276.9 97.4 278.4 98.1 279.5 99C280.6 99.9 282 100.8 282.7 102.3C283.4 103.8 283.5 104.1 283.9 107.9C284.3 111.7 284.9 118 285.3 125C285.7 132 286.1 142.8 286.5 150C286.9 157.2 287.2 162.7 287.6 168C288 173.3 288.4 178.2 288.8 182C289.2 185.8 289.7 188.5 290.3 191C290.9 193.5 291.6 195.5 292.3 196.8C293 198.1 293.2 198.4 294.5 198.8C295.8 199.2 297.8 199.1 300 199.1C302.2 199.1 306.7 199.1 308 199.1"/>
<g fill="none" stroke="#760a86" stroke-width="1.1"><path d="M45.5 50.1l2.7 4.6h-5.4z"/><path d="M46.3 48.3l2.7 4.6h-5.4z"/><path d="M47.1 51.4l2.7 4.6h-5.4z"/><path d="M47.9 53.4l2.7 4.6h-5.4z"/><path d="M48.7 53.8l2.7 4.6h-5.4z"/><path d="M49.5 48l2.7 4.6h-5.4z"/><path d="M50.3 54l2.7 4.6h-5.4z"/><path d="M51.1 55.9l2.7 4.6h-5.4z"/><path d="M51.9 54.9l2.7 4.6h-5.4z"/><path d="M52.7 51l2.7 4.6h-5.4z"/><path d="M53.5 53.9l2.7 4.6h-5.4z"/><path d="M54.3 56.2l2.7 4.6h-5.4z"/><path d="M55.1 56.4l2.7 4.6h-5.4z"/><path d="M55.9 54.6l2.7 4.6h-5.4z"/><path d="M56.7 55l2.7 4.6h-5.4z"/><path d="M57.5 59.1l2.7 4.6h-5.4z"/><path d="M58.3 55.2l2.7 4.6h-5.4z"/><path d="M59.1 61.1l2.7 4.6h-5.4z"/><path d="M59.9 58.7l2.7 4.6h-5.4z"/><path d="M60.7 59.7l2.7 4.6h-5.4z"/><path d="M61.5 57l2.7 4.6h-5.4z"/><path d="M62.3 58.8l2.7 4.6h-5.4z"/><path d="M63.1 61.7l2.7 4.6h-5.4z"/><path d="M63.9 57.9l2.7 4.6h-5.4z"/><path d="M64.7 65.1l2.7 4.6h-5.4z"/><path d="M65.5 58.8l2.7 4.6h-5.4z"/><path d="M66.3 59.5l2.7 4.6h-5.4z"/><path d="M67.1 62.3l2.7 4.6h-5.4z"/><path d="M67.9 63.4l2.7 4.6h-5.4z"/><path d="M68.7 64.1l2.7 4.6h-5.4z"/><path d="M69.5 62.3l2.7 4.6h-5.4z"/><path d="M70.3 62.9l2.7 4.6h-5.4z"/><path d="M71.1 63.1l2.7 4.6h-5.4z"/><path d="M71.9 62.7l2.7 4.6h-5.4z"/><path d="M72.7 60.1l2.7 4.6h-5.4z"/><path d="M73.5 66.2l2.7 4.6h-5.4z"/><path d="M74.3 64.9l2.7 4.6h-5.4z"/><path d="M75.1 64.8l2.7 4.6h-5.4z"/><path d="M75.9 63.3l2.7 4.6h-5.4z"/><path d="M76.7 65.1l2.7 4.6h-5.4z"/><path d="M77.5 64.7l2.7 4.6h-5.4z"/><path d="M78.3 64.6l2.7 4.6h-5.4z"/><path d="M79.1 67.2l2.7 4.6h-5.4z"/><path d="M79.9 62.2l2.7 4.6h-5.4z"/><path d="M80.7 66.4l2.7 4.6h-5.4z"/><path d="M81.5 64.3l2.7 4.6h-5.4z"/><path d="M82.3 66.2l2.7 4.6h-5.4z"/><path d="M83.1 70.1l2.7 4.6h-5.4z"/><path d="M83.9 65.6l2.7 4.6h-5.4z"/><path d="M84.7 67.9l2.7 4.6h-5.4z"/><path d="M85.5 67.4l2.7 4.6h-5.4z"/><path d="M86.3 70.7l2.7 4.6h-5.4z"/><path d="M87.1 67.3l2.7 4.6h-5.4z"/><path d="M87.9 66.3l2.7 4.6h-5.4z"/><path d="M88.7 70.8l2.7 4.6h-5.4z"/><path d="M89.5 69.5l2.7 4.6h-5.4z"/><path d="M90.5 70.1l2.7 4.6h-5.4z"/><path d="M91.6 71.9l2.7 4.6h-5.4z"/><path d="M92.7 69.6l2.7 4.6h-5.4z"/><path d="M93.8 70.4l2.7 4.6h-5.4z"/><path d="M94.9 71.2l2.7 4.6h-5.4z"/><path d="M96 72.2l2.7 4.6h-5.4z"/><path d="M97.1 71.8l2.7 4.6h-5.4z"/><path d="M98.2 74.5l2.7 4.6h-5.4z"/><path d="M99.3 76.8l2.7 4.6h-5.4z"/><path d="M100.4 74.2l2.7 4.6h-5.4z"/><path d="M101.5 77.8l2.7 4.6h-5.4z"/><path d="M102.6 73.5l2.7 4.6h-5.4z"/><path d="M103.7 78.4l2.7 4.6h-5.4z"/><path d="M104.8 76.7l2.7 4.6h-5.4z"/><path d="M105.9 77.7l2.7 4.6h-5.4z"/><path d="M107 76.3l2.7 4.6h-5.4z"/><path d="M108.1 75l2.7 4.6h-5.4z"/><path d="M109.2 73.3l2.7 4.6h-5.4z"/><path d="M110.3 73.4l2.7 4.6h-5.4z"/><path d="M111.4 74.5l2.7 4.6h-5.4z"/><path d="M112.5 73.3l2.7 4.6h-5.4z"/><path d="M113.6 70.4l2.7 4.6h-5.4z"/><path d="M114.7 70l2.7 4.6h-5.4z"/><path d="M115.8 70.3l2.7 4.6h-5.4z"/><path d="M116.9 70.2l2.7 4.6h-5.4z"/><path d="M118 74.4l2.7 4.6h-5.4z"/><path d="M119.1 73.8l2.7 4.6h-5.4z"/><path d="M120.2 74.2l2.7 4.6h-5.4z"/><path d="M121.3 74.6l2.7 4.6h-5.4z"/><path d="M122.4 75l2.7 4.6h-5.4z"/><path d="M123.5 79l2.7 4.6h-5.4z"/><path d="M124.6 79.3l2.7 4.6h-5.4z"/><path d="M125.7 77.2l2.7 4.6h-5.4z"/><path d="M126.8 79.8l2.7 4.6h-5.4z"/><path d="M127.9 77.2l2.7 4.6h-5.4z"/><path d="M129 79.5l2.7 4.6h-5.4z"/><path d="M130.1 77.6l2.7 4.6h-5.4z"/><path d="M131.2 78.4l2.7 4.6h-5.4z"/><path d="M132.3 79.6l2.7 4.6h-5.4z"/><path d="M133.4 79.6l2.7 4.6h-5.4z"/><path d="M134.5 80l2.7 4.6h-5.4z"/><path d="M135.6 77.4l2.7 4.6h-5.4z"/><path d="M136.7 80.2l2.7 4.6h-5.4z"/><path d="M137.8 79.6l2.7 4.6h-5.4z"/><path d="M138.9 77.6l2.7 4.6h-5.4z"/><path d="M140 78.5l2.7 4.6h-5.4z"/><path d="M141.1 77.3l2.7 4.6h-5.4z"/><path d="M142.2 78.4l2.7 4.6h-5.4z"/><path d="M143.3 77.3l2.7 4.6h-5.4z"/><path d="M144.4 79.4l2.7 4.6h-5.4z"/><path d="M145.5 79.9l2.7 4.6h-5.4z"/><path d="M146.6 81.7l2.7 4.6h-5.4z"/><path d="M147.7 81.6l2.7 4.6h-5.4z"/><path d="M148.8 81.8l2.7 4.6h-5.4z"/><path d="M149.9 80.7l2.7 4.6h-5.4z"/><path d="M151 81.2l2.7 4.6h-5.4z"/><path d="M152.1 81.5l2.7 4.6h-5.4z"/><path d="M153.2 82.6l2.7 4.6h-5.4z"/><path d="M154.3 80.2l2.7 4.6h-5.4z"/><path d="M155.4 84l2.7 4.6h-5.4z"/><path d="M156.5 81.4l2.7 4.6h-5.4z"/><path d="M157.6 83.5l2.7 4.6h-5.4z"/><path d="M158.7 85.1l2.7 4.6h-5.4z"/><path d="M159.8 85.4l2.7 4.6h-5.4z"/><path d="M160.9 89l2.7 4.6h-5.4z"/><path d="M162 88l2.7 4.6h-5.4z"/><path d="M163.1 92.4l2.7 4.6h-5.4z"/><path d="M164.2 94.2l2.7 4.6h-5.4z"/><path d="M165.3 95l2.7 4.6h-5.4z"/><path d="M166.5 98.7l2.7 4.6h-5.4z"/><path d="M167.4 101.5l2.7 4.6h-5.4z"/><path d="M168.3 102.5l2.7 4.6h-5.4z"/><path d="M169.2 104.2l2.7 4.6h-5.4z"/><path d="M170.1 105l2.7 4.6h-5.4z"/><path d="M171 106.6l2.7 4.6h-5.4z"/><path d="M171.9 107.6l2.7 4.6h-5.4z"/><path d="M172.8 109l2.7 4.6h-5.4z"/><path d="M173.7 110l2.7 4.6h-5.4z"/><path d="M174.6 110.8l2.7 4.6h-5.4z"/><path d="M175.5 111l2.7 4.6h-5.4z"/><path d="M176.4 111.6l2.7 4.6h-5.4z"/><path d="M177.3 112.4l2.7 4.6h-5.4z"/><path d="M178.2 112.7l2.7 4.6h-5.4z"/><path d="M179.1 112.9l2.7 4.6h-5.4z"/><path d="M180 113.6l2.7 4.6h-5.4z"/><path d="M180.9 113.5l2.7 4.6h-5.4z"/><path d="M181.8 114.2l2.7 4.6h-5.4z"/><path d="M182.7 114.2l2.7 4.6h-5.4z"/><path d="M183.6 114.9l2.7 4.6h-5.4z"/><path d="M184.5 114.8l2.7 4.6h-5.4z"/><path d="M185.4 115.4l2.7 4.6h-5.4z"/><path d="M186.3 115.8l2.7 4.6h-5.4z"/><path d="M187.2 115.7l2.7 4.6h-5.4z"/><path d="M188.1 116l2.7 4.6h-5.4z"/><path d="M189 115.9l2.7 4.6h-5.4z"/><path d="M189.9 115.9l2.7 4.6h-5.4z"/><path d="M190.8 116.2l2.7 4.6h-5.4z"/><path d="M191.7 116.3l2.7 4.6h-5.4z"/><path d="M192.6 116.4l2.7 4.6h-5.4z"/><path d="M193.5 116.3l2.7 4.6h-5.4z"/><path d="M194.4 116.6l2.7 4.6h-5.4z"/><path d="M195.3 116.7l2.7 4.6h-5.4z"/><path d="M196.2 116.8l2.7 4.6h-5.4z"/><path d="M197.1 116.9l2.7 4.6h-5.4z"/><path d="M198 116.9l2.7 4.6h-5.4z"/><path d="M198.9 117l2.7 4.6h-5.4z"/><path d="M199.8 117.3l2.7 4.6h-5.4z"/><path d="M200.7 117.3l2.7 4.6h-5.4z"/><path d="M201.6 117.2l2.7 4.6h-5.4z"/><path d="M202.5 117.2l2.7 4.6h-5.4z"/><path d="M203.4 117.3l2.7 4.6h-5.4z"/><path d="M204.3 117.4l2.7 4.6h-5.4z"/><path d="M205.2 117.4l2.7 4.6h-5.4z"/><path d="M206.1 117.3l2.7 4.6h-5.4z"/><path d="M207 117.4l2.7 4.6h-5.4z"/><path d="M207.9 117.4l2.7 4.6h-5.4z"/><path d="M208.8 117.6l2.7 4.6h-5.4z"/><path d="M209.7 117.6l2.7 4.6h-5.4z"/><path d="M210.6 117.6l2.7 4.6h-5.4z"/><path d="M211.5 117.6l2.7 4.6h-5.4z"/><path d="M212.4 117.5l2.7 4.6h-5.4z"/><path d="M213.3 117.7l2.7 4.6h-5.4z"/><path d="M214.2 117.6l2.7 4.6h-5.4z"/><path d="M215.1 117.7l2.7 4.6h-5.4z"/><path d="M216 117.7l2.7 4.6h-5.4z"/><path d="M216.9 117.6l2.7 4.6h-5.4z"/><path d="M217.8 117.7l2.7 4.6h-5.4z"/><path d="M218.7 117.7l2.7 4.6h-5.4z"/><path d="M219.6 117.8l2.7 4.6h-5.4z"/><path d="M220.5 117.8l2.7 4.6h-5.4z"/><path d="M221.4 117.8l2.7 4.6h-5.4z"/><path d="M222.3 117.9l2.7 4.6h-5.4z"/><path d="M223.2 117.7l2.7 4.6h-5.4z"/><path d="M224.1 117.8l2.7 4.6h-5.4z"/><path d="M225 117.9l2.7 4.6h-5.4z"/><path d="M225.9 117.8l2.7 4.6h-5.4z"/><path d="M226.8 117.9l2.7 4.6h-5.4z"/><path d="M227.7 118l2.7 4.6h-5.4z"/><path d="M228.6 117.9l2.7 4.6h-5.4z"/><path d="M229.5 117.8l2.7 4.6h-5.4z"/><path d="M230.4 117.9l2.7 4.6h-5.4z"/><path d="M231.3 117.9l2.7 4.6h-5.4z"/><path d="M232.2 118l2.7 4.6h-5.4z"/><path d="M233.1 117.9l2.7 4.6h-5.4z"/><path d="M234 118l2.7 4.6h-5.4z"/><path d="M234.9 117.9l2.7 4.6h-5.4z"/><path d="M235.8 118l2.7 4.6h-5.4z"/><path d="M236.7 118l2.7 4.6h-5.4z"/><path d="M237.6 118l2.7 4.6h-5.4z"/><path d="M238.5 118.1l2.7 4.6h-5.4z"/><path d="M239.4 118l2.7 4.6h-5.4z"/><path d="M240.3 118l2.7 4.6h-5.4z"/><path d="M241.2 118l2.7 4.6h-5.4z"/><path d="M242.1 118.1l2.7 4.6h-5.4z"/><path d="M243 117.9l2.7 4.6h-5.4z"/><path d="M243.9 118l2.7 4.6h-5.4z"/><path d="M244.8 118l2.7 4.6h-5.4z"/><path d="M245.7 118l2.7 4.6h-5.4z"/><path d="M246.6 118.1l2.7 4.6h-5.4z"/><path d="M247.5 118l2.7 4.6h-5.4z"/><path d="M248.4 118l2.7 4.6h-5.4z"/><path d="M249.3 118l2.7 4.6h-5.4z"/><path d="M250.2 117.8l2.7 4.6h-5.4z"/><path d="M251.1 118l2.7 4.6h-5.4z"/><path d="M252 118l2.7 4.6h-5.4z"/><path d="M252.9 118l2.7 4.6h-5.4z"/><path d="M253.8 118l2.7 4.6h-5.4z"/><path d="M254.7 118l2.7 4.6h-5.4z"/><path d="M255.6 118l2.7 4.6h-5.4z"/><path d="M256.5 117.5l2.7 4.6h-5.4z"/><path d="M257.4 116.4l2.7 4.6h-5.4z"/><path d="M292.5 117.7l2.7 4.6h-5.4z"/><path d="M293.4 117.6l2.7 4.6h-5.4z"/><path d="M294.3 117.9l2.7 4.6h-5.4z"/><path d="M295.2 118l2.7 4.6h-5.4z"/><path d="M296.1 118l2.7 4.6h-5.4z"/><path d="M297 117.9l2.7 4.6h-5.4z"/><path d="M297.9 118l2.7 4.6h-5.4z"/><path d="M298.8 118.1l2.7 4.6h-5.4z"/><path d="M299.7 117.9l2.7 4.6h-5.4z"/><path d="M300.6 117.9l2.7 4.6h-5.4z"/><path d="M301.5 117.9l2.7 4.6h-5.4z"/><path d="M302.4 118l2.7 4.6h-5.4z"/><path d="M303.3 118l2.7 4.6h-5.4z"/><path d="M304.2 118l2.7 4.6h-5.4z"/><path d="M305.1 117.9l2.7 4.6h-5.4z"/><path d="M306 118.1l2.7 4.6h-5.4z"/><path d="M306.9 118l2.7 4.6h-5.4z"/><path d="M307.8 118l2.7 4.6h-5.4z"/><path d="M78 60l2.7 4.6h-5.4z"/></g><g fill="none" stroke="#84189c" stroke-width="0.9"><path d="M259.2 114.4l2.5 4.3h-5z"/><path d="M260.7 111.6l2.5 4.3h-5z"/><path d="M261.5 107l2.5 4.3h-5z"/><path d="M262 102.4l2.5 4.3h-5z"/><path d="M262 98.7l2.5 4.3h-5z"/><path d="M262.6 95l2.5 4.3h-5z"/><path d="M262.6 90.3l2.5 4.3h-5z"/><path d="M262.9 86.6l2.5 4.3h-5z"/><path d="M263.3 82.9l2.5 4.3h-5z"/><path d="M263.6 78.9l2.5 4.3h-5z"/><path d="M264.1 72.5l2.5 4.3h-5z"/><path d="M264.1 68.3l2.5 4.3h-5z"/><path d="M264.6 64.1l2.5 4.3h-5z"/><path d="M265.1 60.7l2.5 4.3h-5z"/><path d="M265.4 51.1l2.5 4.3h-5z"/><path d="M266.3 44.4l2.5 4.3h-5z"/><path d="M266.4 37.7l2.5 4.3h-5z"/><path d="M266.6 29.8l2.5 4.3h-5z"/><path d="M267.1 24.6l2.5 4.3h-5z"/><path d="M267.2 20.8l2.5 4.3h-5z"/><path d="M267.5 16.9l2.5 4.3h-5z"/><path d="M268.1 13.3l2.5 4.3h-5z"/><path d="M269 10l2.5 4.3h-5z"/><path d="M270.5 13.8l2.5 4.3h-5z"/><path d="M271.2 17.6l2.5 4.3h-5z"/><path d="M272.6 20.4l2.5 4.3h-5z"/><path d="M273.1 24.5l2.5 4.3h-5z"/><path d="M273.2 31.7l2.5 4.3h-5z"/><path d="M274.4 34.9l2.5 4.3h-5z"/><path d="M276.3 37.5l2.5 4.3h-5z"/><path d="M278.2 39l2.5 4.3h-5z"/><path d="M280.2 40.2l2.5 4.3h-5z"/><path d="M282.2 41.5l2.5 4.3h-5z"/><path d="M284 43.2l2.5 4.3h-5z"/><path d="M285.3 47l2.5 4.3h-5z"/><path d="M285.2 48.3l2.5 4.3h-5z"/><path d="M285.7 55.3l2.5 4.3h-5z"/><path d="M286.1 60l2.5 4.3h-5z"/><path d="M286.4 63.4l2.5 4.3h-5z"/><path d="M286.9 69l2.5 4.3h-5z"/><path d="M286.9 77.6l2.5 4.3h-5z"/><path d="M287.6 83.7l2.5 4.3h-5z"/><path d="M288.2 86.9l2.5 4.3h-5z"/><path d="M288.7 93.9l2.5 4.3h-5z"/><path d="M289.1 101.3l2.5 4.3h-5z"/><path d="M289.5 104.6l2.5 4.3h-5z"/><path d="M290 107.7l2.5 4.3h-5z"/><path d="M290.6 111.4l2.5 4.3h-5z"/><path d="M290.9 114.2l2.5 4.3h-5z"/><path d="M272 35.9l2.5 4.3h-5z"/><path d="M277.5 40.2l2.5 4.3h-5z"/><path d="M281.2 42.6l2.5 4.3h-5z"/><path d="M284.5 45.6l2.5 4.3h-5z"/><path d="M274.8 38.4l2.5 4.3h-5z"/><path d="M257.5 115.9l2.5 4.3h-5z"/><path d="M292 115.9l2.5 4.3h-5z"/></g>
</g>
<line x1="77.8" y1="41.5" x2="77.8" y2="53" stroke="#1a1ad0" stroke-width="1.5"/><path d="M75.3 52L80.3 52L77.8 58z" fill="#1a1ad0"/>
<line x1="94.6" y1="51" x2="94.6" y2="62" stroke="#1a1ad0" stroke-width="1.5"/><path d="M92.1 61L97.1 61L94.6 67z" fill="#1a1ad0"/>
<line x1="143.5" y1="65" x2="143.5" y2="76" stroke="#1a1ad0" stroke-width="1.5"/><path d="M141 75L146 75L143.5 81z" fill="#1a1ad0"/>
<line x1="183.8" y1="98.9" x2="178.4" y2="105.9" stroke="#1a1ad0" stroke-width="1.5"/><path d="M175.1 110.4L177 104L180.5 106.7z" fill="#1a1ad0"/>
<line x1="104.3" y1="134" x2="104.3" y2="144.8" stroke="#111" stroke-width="1.5"/><path d="M101.8 143.8L106.8 143.8L104.3 149.8z" fill="#111"/>
<line x1="125.9" y1="143" x2="125.9" y2="153.6" stroke="#111" stroke-width="1.5"/><path d="M123.4 152.6L128.4 152.6L125.9 158.6z" fill="#111"/>
<rect x="45.5" y="5.5" width="262.8" height="194.6" fill="none" stroke="#111" stroke-width="1.2"/>
<path d="M55.5 200.1v4M55.5 5.5v4M76.4 200.1v2.2M76.4 5.5v2.2M97.4 200.1v4M97.4 5.5v4M118.3 200.1v2.2M118.3 5.5v2.2M139.2 200.1v4M139.2 5.5v4M160.2 200.1v2.2M160.2 5.5v2.2M181.1 200.1v4M181.1 5.5v4M202 200.1v2.2M202 5.5v2.2M222.9 200.1v4M222.9 5.5v4M243.9 200.1v2.2M243.9 5.5v2.2M264.8 200.1v4M264.8 5.5v4M285.7 200.1v2.2M285.7 5.5v2.2M306.7 200.1v4M306.7 5.5v4M45.5 199.6h-4M308.3 199.6h-4M45.5 183.4h-2.2M308.3 183.4h-2.2M45.5 167.2h-4M308.3 167.2h-4M45.5 151h-2.2M308.3 151h-2.2M45.5 134.8h-4M308.3 134.8h-4M45.5 118.7h-2.2M308.3 118.7h-2.2M45.5 102.5h-4M308.3 102.5h-4M45.5 86.3h-2.2M308.3 86.3h-2.2M45.5 70.1h-4M308.3 70.1h-4M45.5 53.9h-2.2M308.3 53.9h-2.2M45.5 37.7h-4M308.3 37.7h-4M45.5 21.5h-2.2M308.3 21.5h-2.2M45.5 5.3h-4M308.3 5.3h-4" stroke="#111" stroke-width="1" fill="none"/>
<g font-size="9.3" fill="#222" text-anchor="middle">
<text x="55.5" y="214">400</text>
<text x="97.4" y="214">600</text>
<text x="139.2" y="214">800</text>
<text x="181.1" y="214">1000</text>
<text x="222.9" y="214">1200</text>
<text x="264.8" y="214">1400</text>
<text x="306.7" y="214">1600</text>
</g><g font-size="9.3" fill="#222" text-anchor="end">
<text x="38.6" y="202.8">0</text>
<text x="38.6" y="170.4">500</text>
<text x="38.6" y="138">1000</text>
<text x="38.6" y="105.7">1500</text>
<text x="38.6" y="73.3">2000</text>
<text x="38.6" y="40.9">2500</text>
<text x="38.6" y="8.5">3000</text>
</g>
<clipPath id="cb"><rect x="367.0" y="5.5" width="261.20000000000005" height="194.4"/></clipPath>
<g clip-path="url(#cb)" fill="none" stroke-width="1.7" stroke-linejoin="round">
<path stroke="#f01414" d="M367 196.2C369.4 196 377.3 196 381.7 195.3C386.1 194.6 389.6 193.4 393.5 191.8C397.4 190.2 401.4 188.3 404.8 185.5C408.2 182.7 411.3 178.9 413.8 175C416.3 171.1 418 166.7 420 162C422 157.3 424.1 152.2 426 147C427.9 141.8 429.8 136.5 431.5 131C433.2 125.5 434.8 120.2 436.5 114C438.2 107.8 440.3 101.3 442 94C443.7 86.7 445.3 76.7 446.5 70C447.7 63.3 448.5 58.5 449.4 54C450.3 49.5 450.9 46.4 451.8 43C452.7 39.6 453.8 36.3 455 33.5C456.2 30.7 457.2 28.4 458.9 26.4C460.6 24.4 463.5 22.4 465.3 21.4C467.1 20.4 468.1 20.6 469.5 20.6C470.9 20.6 472.1 20.7 473.5 21.5C474.9 22.3 475.9 22.9 477.9 25.2C479.9 27.5 483 31.5 485.5 35.3C488 39.1 490.5 43.7 493 47.9C495.5 52.1 498.8 57.6 500.6 60.5C502.4 63.4 502.4 63.9 504 65.5C505.6 67.1 507.3 69 510.5 70.2C513.7 71.4 518.2 72.2 523.1 72.7C528 73.2 536.3 73.3 540 73.4C543.7 73.5 542.7 73.2 545.2 73.5C547.8 73.8 552.4 74.1 555.3 75.2C558.2 76.3 560.5 78 562.8 80.3C565.1 82.6 567.2 85.7 569.1 89.1C571 92.5 572.7 96.5 574.2 100.5C575.7 104.5 576.8 109.1 578 113C579.2 116.9 580.6 120.3 581.7 124C582.8 127.7 583.4 130.6 584.7 135C586 139.4 588.1 145.9 589.6 150.4C591.1 154.9 592.3 158.2 593.7 162C595.1 165.8 596.5 170.1 598 173.5C599.5 176.9 601 179.7 602.7 182.5C604.5 185.3 606.8 188.3 608.5 190.3C610.2 192.3 611 193.3 612.7 194.5C614.5 195.7 617 196.8 619 197.5C621 198.2 622.8 198.6 624.7 198.9C626.7 199.2 629.7 199.2 630.7 199.3"/>
<path stroke="#0a0a8a" d="M367 198.5C371.9 198.4 389.5 198.6 396.4 198.2C403.3 197.8 404.5 198 408.2 196.2C411.9 194.4 415.6 191.6 418.5 187.4C421.4 183.2 423.6 177.3 425.8 171.2C428 165.1 429.7 157.5 431.7 150.6C433.7 143.7 436.1 135.9 437.6 130C439.2 124.1 439.7 121 441 115C442.3 109 444.1 101 445.4 94C446.7 87 447.7 79.7 448.8 73C449.9 66.3 451.2 58.8 452.1 54C453.1 49.2 453.5 47.2 454.5 44C455.5 40.8 456.8 37.5 458 35C459.2 32.5 460.3 30.5 461.5 28.9C462.7 27.3 463.8 26 465 25.2C466.2 24.4 467.8 24.1 469 24.2C470.2 24.2 471.2 24.7 472.5 25.5C473.8 26.3 474.7 26.4 476.6 28.9C478.6 31.4 481.7 36.1 484.2 40.3C486.7 44.5 489.5 49.4 491.8 54.2C494.1 59 495.6 64.8 497.9 68.9C500.2 73 502.6 76.3 505.5 79C508.4 81.7 511.8 83.9 515.6 85.3C519.4 86.7 523.3 86.9 528.2 87.3C533.1 87.7 540.7 87.4 545.2 87.8C549.7 88.2 552.4 88.8 555.3 89.8C558.2 90.8 560.3 91.9 562.8 94.1C565.3 96.3 568.4 100.6 570.4 103C572.4 105.4 573 105.4 574.5 108.4C576 111.4 578.1 116.6 579.7 121C581.3 125.4 582.5 130.1 584 135C585.5 139.9 587.4 145.9 588.9 150.4C590.4 154.9 591.6 158.2 593 162C594.4 165.8 595.8 170.1 597.3 173.5C598.8 176.9 600.2 179.7 602 182.5C603.8 185.3 606.1 188.3 607.8 190.3C609.5 192.3 610.2 193.3 612 194.5C613.8 195.7 616.3 196.8 618.3 197.5C620.3 198.2 622 198.6 624 198.9C626 199.2 629 199.2 630 199.3"/>
<path stroke="#8a1a9a" d="M367 196.5C367.8 196.3 370.2 195.7 372 195.6C373.8 195.5 375.8 195.7 378 195.8C380.2 195.9 382.7 196.2 385 196.2C387.3 196.2 389.9 195.9 392 195.6C394.1 195.3 395.8 194.8 397.8 194.2C399.8 193.6 401.8 192.8 404 192C406.2 191.2 408.8 190.4 411 189.7C413.2 189 415.4 188.3 417.5 187.6C419.6 186.9 421 187.2 423.4 185.5C425.8 183.8 429.3 181.4 431.8 177.2C434.3 173 436.3 167.1 438.5 160.4C440.7 153.7 443 145 445.2 136.9C447.4 128.8 449.9 117.5 451.5 112C453.1 106.5 453.9 106.7 455 104C456.1 101.3 457.1 99.2 458 96C458.9 92.8 459.6 88.7 460.5 85C461.4 81.3 462.4 77.2 463.6 73.9C464.8 70.7 466.6 67.5 467.8 65.5C469 63.5 469.9 62.9 471 62C472.1 61.1 473.2 60.1 474.1 60C475 59.9 475.8 61 476.6 61.3C477.4 61.6 478.3 61.7 479.1 61.8C479.9 61.9 480.7 62.1 481.6 62.2C482.4 62.3 483 61.7 484 62.6C485 63.5 486.5 66.3 487.8 67.6C489.1 68.9 490.3 69.3 491.6 70.2C492.9 71.1 494.3 71.5 495.4 72.7C496.4 74 496.8 75.4 497.9 77.7C498.9 80 500.6 84.8 501.7 86.6C502.8 88.4 503.4 88.1 504.2 88.7C505 89.4 505.8 90 506.7 90.4C507.6 90.8 508.8 91 509.9 91.4C510.9 91.8 511.9 92.4 513 92.9C514 93.4 515.1 93.8 516.1 94.2C517.2 94.7 518.3 94.9 519.3 95.4C520.2 95.9 521 96.5 521.8 97.1C522.7 97.8 523.4 99.2 524.4 99.2C525.4 99.2 526.5 97.6 527.5 97.2C528.6 96.7 529.5 96.8 530.7 96.7C531.9 96.6 533.8 96.9 535 96.7C536.2 96.5 537.1 96 538.2 95.8C539.3 95.5 540.3 95.3 541.4 95.4C542.5 95.5 543.5 95.9 544.5 96.3C545.6 96.7 546.8 97.6 547.7 97.9C548.6 98.2 549.4 98.4 550.2 98.2C551 98 551.9 96.8 552.7 96.7C553.5 96.6 554.4 97.3 555.2 97.5C556.1 97.7 556.9 97.8 557.8 98.1C558.6 98.4 559.5 99 560.3 99.2C561.1 99.4 562 99.2 562.8 99.3C563.7 99.5 564.5 99.6 565.4 99.9C566.2 100.2 567.1 100.6 567.9 101C568.7 101.4 569.6 101.8 570.4 102.3C571.2 102.9 571.9 102.6 572.9 104.2C573.9 105.8 575.3 108.9 576.5 112C577.7 115.1 578.8 119.2 580 123C581.2 126.8 582.2 130.4 583.6 135C585 139.6 587 145.9 588.5 150.4C590 154.9 591.2 158.2 592.6 162C594 165.8 595.4 170.1 596.9 173.5C598.4 176.9 599.9 179.7 601.6 182.5C603.4 185.3 605.7 188.3 607.4 190.3C609.1 192.3 609.9 193.3 611.6 194.5C613.4 195.7 615.9 196.8 617.9 197.5C619.9 198.2 621.6 198.6 623.6 198.9C625.6 199.2 628.6 199.2 629.6 199.3"/>
</g>
<rect x="367.0" y="5.5" width="261.20000000000005" height="194.4" fill="none" stroke="#111" stroke-width="1.2"/>
<path d="M380 199.9v4M380 5.5v4M412.8 199.9v2.2M412.8 5.5v2.2M445.6 199.9v4M445.6 5.5v4M478.4 199.9v2.2M478.4 5.5v2.2M511.2 199.9v4M511.2 5.5v4M544 199.9v2.2M544 5.5v2.2M576.8 199.9v4M576.8 5.5v4M609.6 199.9v2.2M609.6 5.5v2.2M367 199h-4M628.2 199h-4M367 178.1h-2.2M628.2 178.1h-2.2M367 157.1h-4M628.2 157.1h-4M367 136.2h-2.2M628.2 136.2h-2.2M367 115.2h-4M628.2 115.2h-4M367 94.2h-2.2M628.2 94.2h-2.2M367 73.3h-4M628.2 73.3h-4M367 52.3h-2.2M628.2 52.3h-2.2M367 31.4h-4M628.2 31.4h-4M367 10.4h-2.2M628.2 10.4h-2.2" stroke="#111" stroke-width="1" fill="none"/>
<g font-size="9.3" fill="#222" text-anchor="middle">
<text x="380" y="214.1">1350</text>
<text x="445.6" y="214.1">1400</text>
<text x="511.2" y="214.1">1450</text>
<text x="576.8" y="214.1">1500</text>
</g><g font-size="9.3" fill="#222" text-anchor="end">
<text x="359.5" y="202.2">0</text>
<text x="359.5" y="160.3">500</text>
<text x="359.5" y="118.4">1000</text>
<text x="359.5" y="76.5">1500</text>
<text x="359.5" y="34.6">2000</text>
</g>
<g stroke-width="1.8"><line x1="447.6" y1="148.7" x2="473.9" y2="148.7" stroke="#f01414"/><line x1="447.6" y1="164.8" x2="473.9" y2="164.8" stroke="#0a0a8a"/><line x1="447.6" y1="180.9" x2="473.9" y2="180.9" stroke="#8a1a9a"/></g>
<g fill="#111">
<text x="48.4" y="18.6" font-size="11" font-weight="bold">a)</text>
<text x="370" y="18.6" font-size="11" font-weight="bold">b)</text>
</g>
<g fill="#222" font-size="12.5">
<text x="117" y="20.6" font-size="12.4">Fe<tspan font-size="9.2" dy="4">3</tspan><tspan dy="-4">O</tspan><tspan font-size="9.2" dy="4">4</tspan><tspan dy="-4">/Fe/MgO(001)</tspan></text>
<text x="117" y="40.3">sample S6</text>
<text x="514.2" y="20.9" font-size="12.3">Fe<tspan font-size="9.2" dy="4">3</tspan><tspan dy="-4">O</tspan><tspan font-size="9.2" dy="4">4</tspan><tspan dy="-4">/Fe/MgO(001)</tspan></text>
<text x="514" y="40.3" font-size="12.3">sample S6</text>
</g>
<text x="74.1" y="41.2" font-size="11.5" fill="#1a1ad0">C</text>
<g fill="#111" font-size="10.5">
<text x="207" y="116.3">26.0x10<tspan font-size="8" dy="-5">16</tspan></text>
<text x="207.3" y="154.8">15.0x10<tspan font-size="8" dy="-5">16</tspan></text>
<text x="212.6" y="178.8">6.0x10<tspan font-size="8" dy="-5">16</tspan></text>
<text x="205.9" y="194.5" font-size="10.5">as grown</text>
</g>
<g fill="#222" font-size="9.5">
<text x="72.8" y="172.3">O(sub.)</text>
<text x="118.4" y="181.3">O(film)</text>
</g>
<g fill="#222" font-size="11">
<text x="147.3" y="235" textLength="64.6" lengthAdjust="spacingAndGlyphs">Energy (keV)</text>
<text x="469.8" y="234.7" textLength="70.6" lengthAdjust="spacingAndGlyphs">Energy (keV)</text>
<text transform="translate(10.8,105.5) rotate(-90)" text-anchor="middle" font-size="11.6">Relative Counts</text>
<text transform="translate(332.6,110.4) rotate(-90)" text-anchor="middle" font-size="11.6">Relative Counts</text>
<text x="476.7" y="152.6">as grown</text>
<text x="483" y="168.4">6.0x10<tspan font-size="7.5" dy="-5.5">16</tspan><tspan dy="5.5"> Ar</tspan><tspan font-size="7.5" dy="-5.5">+</tspan><tspan dy="5.5">/cm</tspan><tspan font-size="7.5" dy="-5.5">2</tspan></text>
<text x="476.3" y="184.5">26.0x10<tspan font-size="7.5" dy="-5.5">16</tspan><tspan dy="5.5"> Ar</tspan><tspan font-size="7.5" dy="-5.5">+</tspan><tspan dy="5.5">/cm</tspan><tspan font-size="7.5" dy="-5.5">2</tspan></text>
</g>
</svg>
</body></html>
